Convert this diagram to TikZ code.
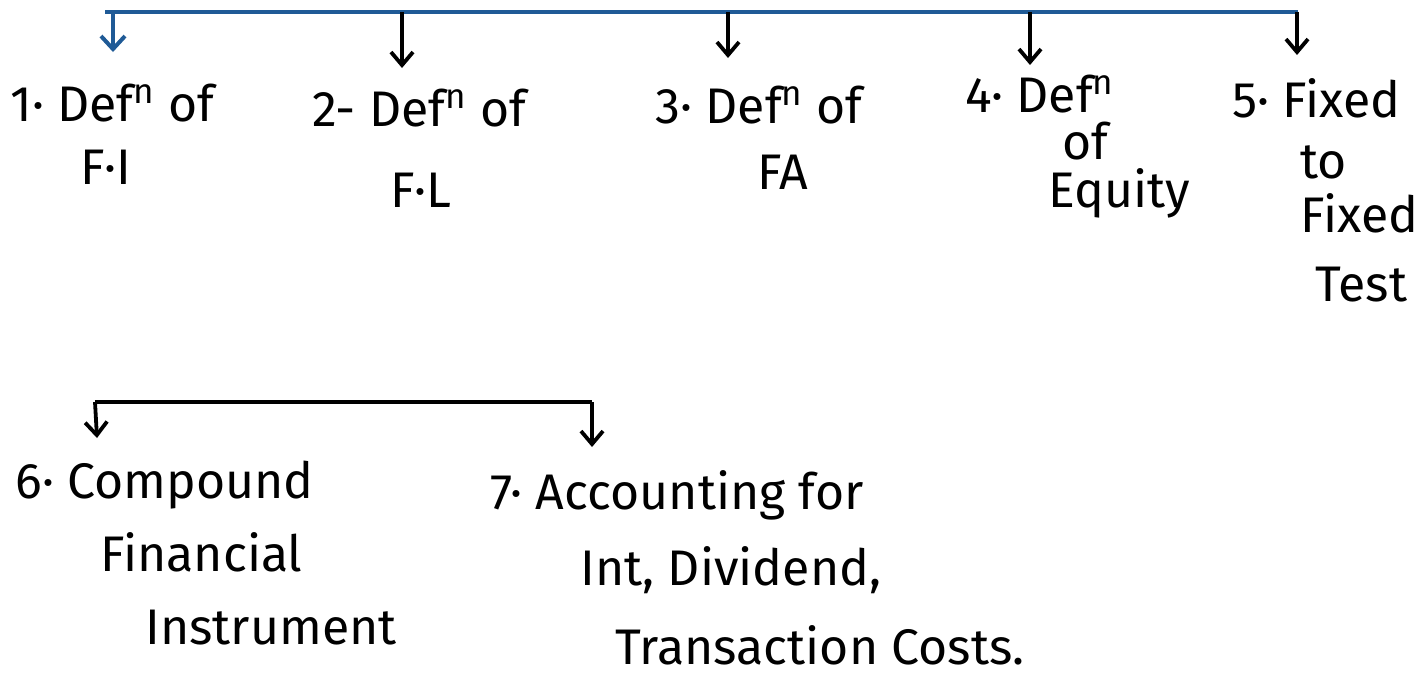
\documentclass[tikz,border=0pt]{standalone}
\usepackage{fontspec}
\setmainfont{Fira Sans}
\usetikzlibrary{arrows.meta}
\definecolor{barblue}{RGB}{31,90,150}
\tikzset{
  lbl/.style={anchor=west, inner sep=0pt, font=\fontsize{25}{29}\selectfont},
  bluebar/.style={draw=barblue, line width=2.2pt},
  blackbar/.style={draw=black, line width=1.9pt},
  bluearr/.style={draw=barblue, line width=2pt, -{Straight Barb[length=6.5pt,width=12pt,line width=2pt]}},
  blackarr/.style={draw=black, line width=1.9pt, -{Straight Barb[length=6.5pt,width=11pt,line width=1.9pt]}}
}
\begin{document}
\begin{tikzpicture}[x=0.5pt,y=-0.5pt]
\useasboundingbox (0,0) rectangle (1427,675);
% top bar
\coordinate (bL) at (105,12);
\coordinate (bR) at (1298,12);
\coordinate (a1) at (113,12);  \coordinate (e1) at (113,52);
\coordinate (a2) at (402,12);  \coordinate (e2) at (402,68);
\coordinate (a3) at (728,12);  \coordinate (e3) at (728,58);
\coordinate (a4) at (1030,12); \coordinate (e4) at (1030,65);
\coordinate (a5) at (1297,12); \coordinate (e5) at (1297,55);
\draw[bluebar] (bL) -- (bR);
\draw[bluearr] (a1) -- (e1);
\draw[blackarr] (a2) -- (e2);
\draw[blackarr] (a3) -- (e3);
\draw[blackarr] (a4) -- (e4);
\draw[blackarr] (a5) -- (e5);
% bottom bar
\coordinate (cL) at (95,402);
\coordinate (cR) at (592,402);
\coordinate (f6) at (97,438);
\coordinate (f7) at (592,447);
\draw[blackbar] (cL) -- (cR);
\draw[blackarr] (cL) -- (f6);
\draw[blackarr] (cR) -- (f7);
% labels
\node[lbl] (t1a) at (10,103) {1· Def\textsuperscript{n} of};
\node[lbl] (t1b) at (80,167) {F·I};
\node[lbl] (t2a) at (312,108) {2- Def\textsuperscript{n} of};
\node[lbl] (t2b) at (390,190) {F·L};
\node[lbl] (t3a) at (655,105) {3· Def\textsuperscript{n} of};
\node[lbl] (t3b) at (757,172) {FA};
\node[lbl] (t4a) at (965,94) {4· Def\textsuperscript{n}};
\node[lbl] (t4b) at (1062,141) {of};
\node[lbl] (t4c) at (1048,193) {Equity};
\node[lbl] (t5a) at (1232,98) {5· Fixed};
\node[lbl] (t5b) at (1300,162) {to};
\node[lbl] (t5c) at (1300,213) {Fixed};
\node[lbl] (t5d) at (1315,285) {Test};
\node[lbl] (t6a) at (15,485) {6· Compound};
\node[lbl] (t6b) at (100,552) {Financial};
\node[lbl] (t6c) at (145,628) {Instrument};
\node[lbl] (t7a) at (490,495) {7· Accounting for};
\node[lbl] (t7b) at (580,570) {Int, Dividend,};
\node[lbl] (t7c) at (615,645) {Transaction Costs.};
\end{tikzpicture}
\end{document}
